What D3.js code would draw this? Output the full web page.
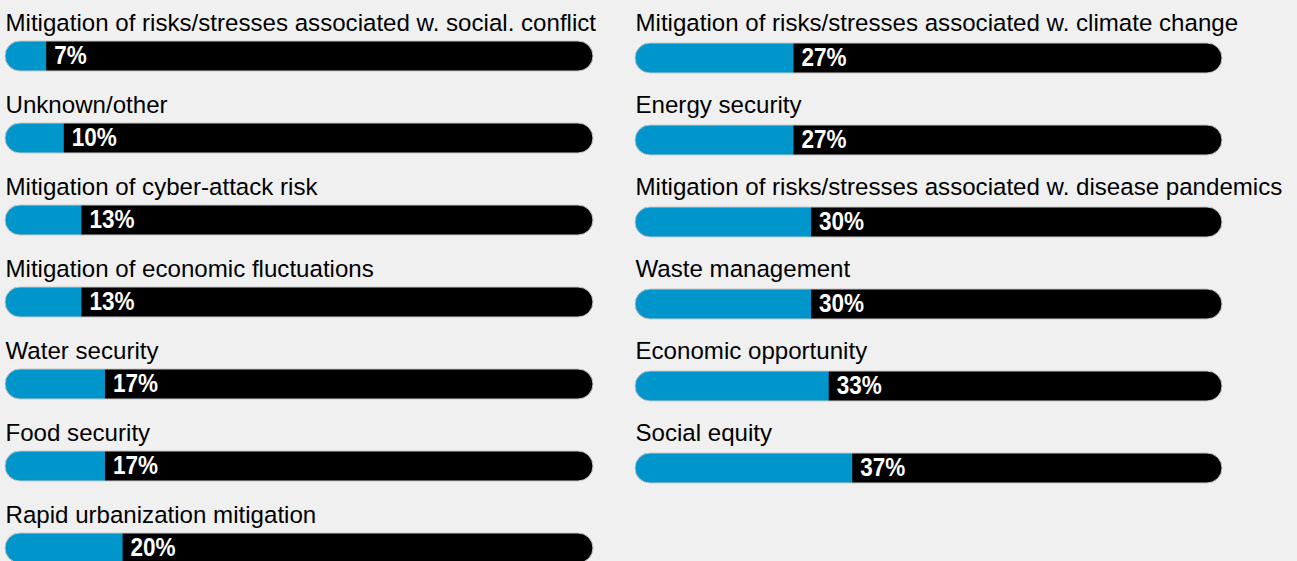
<!DOCTYPE html>
<html>
<head>
<meta charset="utf-8">
<script src="https://cdn.jsdelivr.net/npm/d3@7"></script>
<style>
  body { margin: 0; background: #f0f0f0; }
  svg { display: block; font-family: "Liberation Sans", Arial, sans-serif; }
</style>
</head>
<body>
<div id="chart"></div>
<script>
// left column
const leftLabels = [
  "Mitigation of risks/stresses associated w. social. conflict",
  "Unknown/other",
  "Mitigation of cyber-attack risk",
  "Mitigation of economic fluctuations",
  "Water security",
  "Food security",
  "Rapid urbanization mitigation"
];
const leftValues = [7, 10, 13, 13, 17, 17, 20];

// right column
const rightLabels = [
  "Mitigation of risks/stresses associated w. climate change",
  "Energy security",
  "Mitigation of risks/stresses associated w. disease pandemics",
  "Waste management",
  "Economic opportunity",
  "Social equity"
];
const rightValues = [27, 27, 30, 30, 33, 37];

const width = 1297;
const height = 561;
const barH = 30;
const blue = "#0095cb";

const svg = d3.select("#chart")
  .append("svg")
  .attr("width", width)
  .attr("height", height);

function column(labels, values, x0, x1, y0, labelDy, id) {
  const x = d3.scaleLinear().domain([0, 100]).range([x0, x1]);
  const y = d3.scaleBand()
    .domain(d3.range(labels.length))
    .range([y0, y0 + 82 * labels.length]);

  const rows = svg.append("g")
    .selectAll("g")
    .data(labels.map((l, i) => ({label: l, value: values[i], i})))
    .join("g")
    .attr("transform", d => `translate(0,${y(d.i)})`);

  rows.append("clipPath")
    .attr("id", d => `${id}${d.i}`)
    .append("rect")
    .attr("x", x(0))
    .attr("width", x(100) - x(0))
    .attr("height", barH)
    .attr("rx", barH / 2);

  rows.append("rect")
    .attr("x", x(0))
    .attr("width", x(100) - x(0))
    .attr("height", barH)
    .attr("rx", barH / 2)
    .attr("fill", "#000");

  rows.append("rect")
    .attr("clip-path", d => `url(#${id}${d.i})`)
    .attr("x", x(0))
    .attr("width", d => x(d.value) - x(0))
    .attr("height", barH)
    .attr("fill", blue);

  // thin grey outline
  rows.append("rect")
    .attr("x", x(0))
    .attr("width", x(100) - x(0))
    .attr("height", barH)
    .attr("rx", barH / 2)
    .attr("fill", "none")
    .attr("stroke", "#c8c8c8")
    .attr("stroke-width", 1);

  rows.append("text")
    .attr("x", x0 + 0.5)
    .attr("y", labelDy)
    .attr("font-size", 24.1)
    .attr("fill", "#000")
    .text(d => d.label);

  // condensed bold value labels
  rows.append("text")
    .attr("transform", d => `translate(${x(d.value) + 8},${barH / 2 + 8}) scale(0.9,1)`)
    .attr("font-size", 25)
    .attr("font-weight", "bold")
    .attr("fill", "#fff")
    .text(d => d.value + "%");
}

column(leftLabels, leftValues, 5, 593, 41, -10, "cl");
column(rightLabels, rightValues, 635, 1222, 43, -12, "cr");
</script>
</body>
</html>
